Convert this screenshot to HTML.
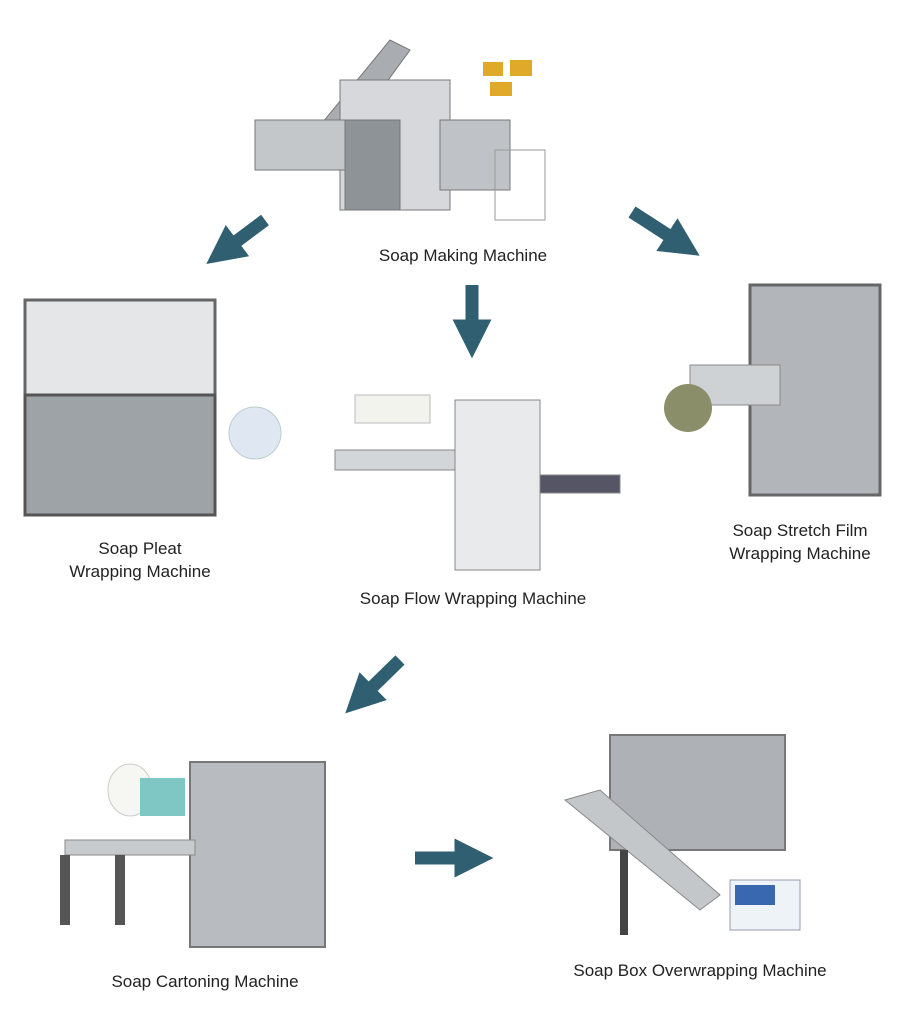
<!DOCTYPE html>
<html><head><meta charset="utf-8"><style>
body{margin:0;background:#fff;width:898px;height:1024px;overflow:hidden;position:relative;font-family:"Liberation Sans",sans-serif}
.l{position:absolute;font-size:17px;color:#222;text-align:center;line-height:23px;transform:translateX(-50%);white-space:nowrap}
.m{position:absolute;background:linear-gradient(180deg,#c9ccd0,#9ea3a8);border:2px solid #6e7378}
</style></head><body>
<svg width="898" height="1024" style="position:absolute;left:0;top:0">
<defs><marker id="a" markerWidth="3" markerHeight="3" refX="1.2" refY="1.5" orient="auto"><path d="M0,0L3,1.5L0,3z" fill="#2f5f70"/></marker></defs>
<g stroke="#2f5f70" stroke-width="13" marker-end="url(#a)">
<line x1="265" y1="220" x2="225" y2="250"/>
<line x1="472" y1="285" x2="472" y2="335"/>
<line x1="632" y1="212" x2="680" y2="243"/>
<line x1="400" y1="660" x2="362" y2="697"/>
<line x1="415" y1="858" x2="470" y2="858"/>
</g>
<!-- soap making -->
<g fill="#a9adb2" stroke="#777">
<polygon points="300,150 390,40 410,50 330,160"/>
<rect x="340" y="80" width="110" height="130" fill="#d6d8db"/>
<rect x="345" y="120" width="55" height="90" fill="#8e9398"/>
<rect x="255" y="120" width="90" height="50" fill="#c4c7ca"/>
<rect x="440" y="120" width="70" height="70" fill="#bfc2c6"/>
<rect x="495" y="150" width="50" height="70" fill="none" stroke="#999"/>
</g>
<rect x="483" y="62" width="20" height="14" fill="#e0a92a"/><rect x="510" y="60" width="22" height="16" fill="#e0a92a"/><rect x="490" y="82" width="22" height="14" fill="#e0a92a"/>
<!-- pleat -->
<rect x="25" y="300" width="190" height="95" fill="#e4e6e8" stroke="#666" stroke-width="3"/>
<rect x="25" y="395" width="190" height="120" fill="#9ea3a8" stroke="#555" stroke-width="3"/>
<circle cx="255" cy="433" r="26" fill="#dfe8f2" stroke="#bcc"/>
<!-- flow -->
<rect x="335" y="450" width="130" height="20" fill="#d3d6d9" stroke="#888"/>
<rect x="455" y="400" width="85" height="170" fill="#e8eaec" stroke="#888"/>
<rect x="540" y="475" width="80" height="18" fill="#556" stroke="#888"/>
<rect x="355" y="395" width="75" height="28" fill="#f3f3ee" stroke="#bbb"/>
<!-- stretch -->
<rect x="750" y="285" width="130" height="210" fill="#b2b6ba" stroke="#666" stroke-width="3"/>
<rect x="690" y="365" width="90" height="40" fill="#cfd2d5" stroke="#888"/>
<circle cx="688" cy="408" r="24" fill="#8a8f6a"/>
<!-- cartoning -->
<rect x="190" y="762" width="135" height="185" fill="#b8bcc0" stroke="#777" stroke-width="2"/>
<rect x="65" y="840" width="130" height="15" fill="#c8cbce" stroke="#888"/>
<rect x="60" y="855" width="10" height="70" fill="#555"/><rect x="115" y="855" width="10" height="70" fill="#555"/>
<ellipse cx="130" cy="790" rx="22" ry="26" fill="#f6f6f2" stroke="#ccc"/>
<rect x="140" y="778" width="45" height="38" fill="#7fc7c4"/>
<!-- overwrap -->
<rect x="610" y="735" width="175" height="115" fill="#aeb2b6" stroke="#777" stroke-width="2"/>
<polygon points="565,800 700,910 720,895 600,790" fill="#c4c7ca" stroke="#888"/>
<rect x="620" y="850" width="8" height="85" fill="#444"/>
<rect x="730" y="880" width="70" height="50" fill="#eef3f8" stroke="#99a"/>
<rect x="735" y="885" width="40" height="20" fill="#3a68b0"/>
</svg>
<div class="l" style="left:463px;top:244px">Soap Making Machine</div>
<div class="l" style="left:140px;top:537px">Soap Pleat<br>Wrapping Machine</div>
<div class="l" style="left:473px;top:587px">Soap Flow Wrapping Machine</div>
<div class="l" style="left:800px;top:519px">Soap Stretch Film<br>Wrapping Machine</div>
<div class="l" style="left:205px;top:970px">Soap Cartoning Machine</div>
<div class="l" style="left:700px;top:959px">Soap Box Overwrapping Machine</div>
</body></html>
